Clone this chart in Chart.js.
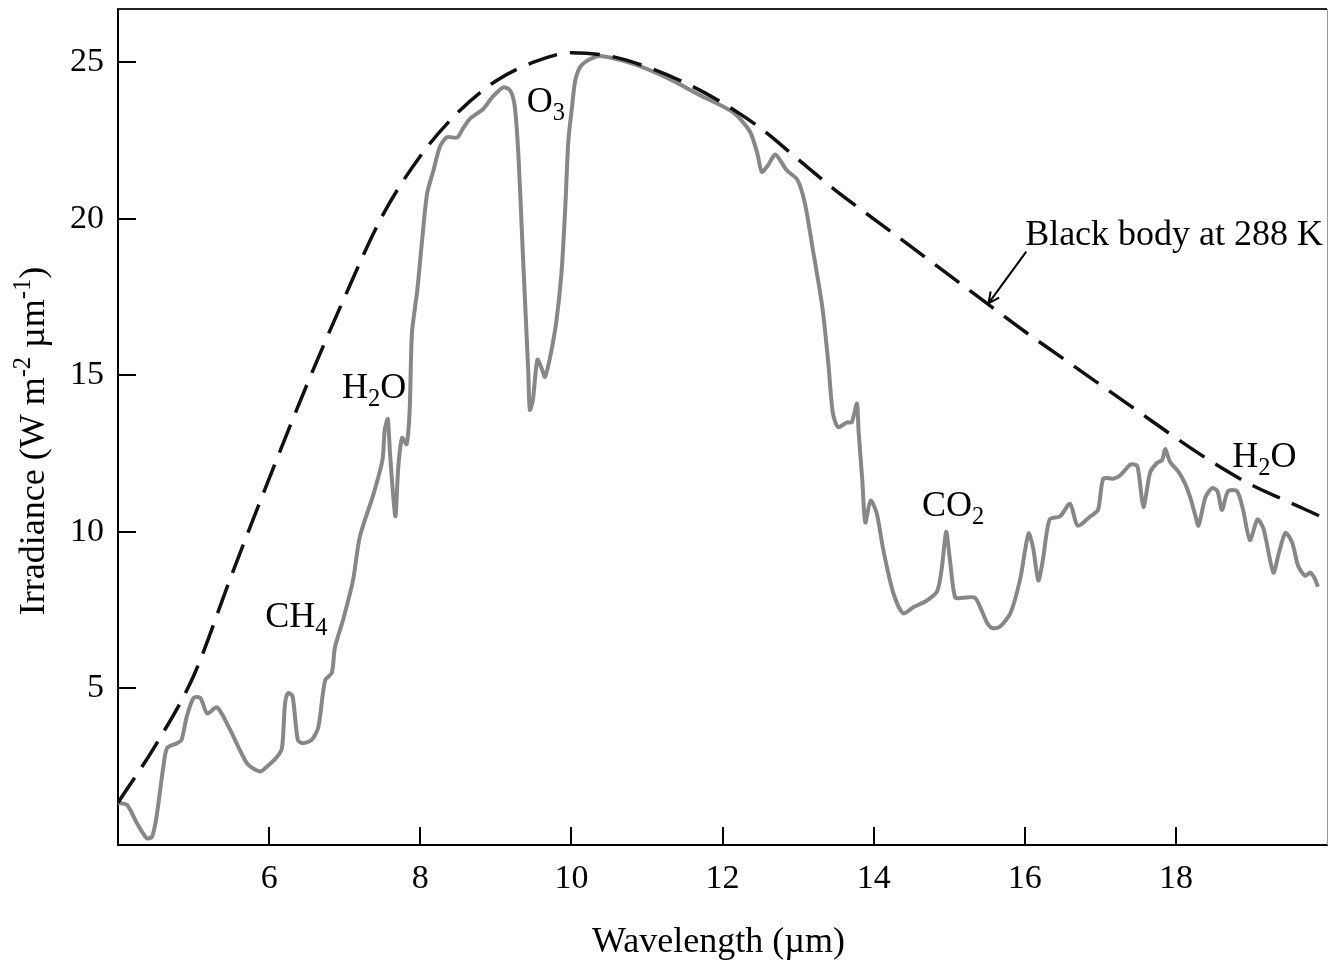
<!DOCTYPE html>
<html>
<head>
<meta charset="utf-8">
<style>
  html, body { margin: 0; padding: 0; background: #fff; }
  canvas { display: block; }
</style>
</head>
<body>
<canvas id="grafico" width="1328" height="962"></canvas>
<script src="https://cdn.jsdelivr.net/npm/chart.js@4.4.1/dist/chart.umd.min.js"></script>
<script>
// measured spectrum, wavelength (µm)
const spectrumX = [
  4.00, 4.12, 4.25, 4.38, 4.45, 4.51, 4.60, 4.65, 4.78, 4.84, 4.91, 5.00, 5.09, 5.18, 5.31, 5.48,
  5.71, 5.88, 5.97, 6.10, 6.17, 6.21, 6.25, 6.31, 6.38, 6.45, 6.56, 6.65, 6.74, 6.83, 6.87, 6.98,
  7.11, 7.20, 7.38, 7.50, 7.53, 7.57, 7.60, 7.67, 7.71, 7.76, 7.82, 7.86, 7.89, 7.96, 8.02, 8.09,
  8.17, 8.26, 8.35, 8.49, 8.57, 8.66, 8.83, 8.96, 9.10, 9.19, 9.25, 9.30, 9.35, 9.39, 9.43, 9.45,
  9.49, 9.55, 9.61, 9.65, 9.72, 9.80, 9.87, 9.92, 9.96, 10.01, 10.05, 10.12, 10.25, 10.38, 10.82, 11.27,
  11.70, 12.14, 12.36, 12.46, 12.52, 12.60, 12.70, 12.85, 12.99, 13.09, 13.19, 13.32, 13.40, 13.46, 13.53, 13.65,
  13.71, 13.78, 13.80, 13.85, 13.89, 13.96, 14.04, 14.13, 14.26, 14.39, 14.53, 14.70, 14.84, 14.90, 14.96, 15.01,
  15.08, 15.18, 15.34, 15.41, 15.50, 15.57, 15.67, 15.81, 15.94, 16.05, 16.11, 16.18, 16.24, 16.33, 16.47, 16.60,
  16.70, 16.87, 16.97, 17.04, 17.17, 17.26, 17.40, 17.49, 17.57, 17.66, 17.75, 17.82, 17.86, 17.92, 18.04, 18.12,
  18.19, 18.26, 18.30, 18.39, 18.48, 18.55, 18.61, 18.69, 18.81, 18.89, 18.98, 19.08, 19.16, 19.29, 19.36, 19.45,
  19.54, 19.62, 19.71, 19.78, 19.84, 19.88
];
// irradiance (W m-2 µm-1)
const spectrumY = [
  1.35, 1.28, 0.70, 0.22, 0.26, 0.90, 2.50, 3.10, 3.25, 3.35, 4.10, 4.70, 4.70, 4.20, 4.40, 3.70,
  2.60, 2.35, 2.50, 2.80, 3.10, 4.50, 4.85, 4.75, 3.35, 3.25, 3.35, 3.75, 5.25, 5.50, 6.30, 7.20,
  8.45, 9.84, 11.2, 12.3, 13.26, 13.6, 12.5, 10.5, 12.1, 13.0, 12.8, 13.9, 16.35, 17.7, 19.2, 20.8,
  21.5, 22.3, 22.6, 22.6, 22.9, 23.2, 23.5, 23.9, 24.2, 24.1, 23.6, 22.0, 19.3, 17.2, 15.1, 13.9,
  14.2, 15.5, 15.2, 14.95, 15.6, 16.7, 18.3, 20.4, 22.5, 23.6, 24.4, 24.86, 25.1, 25.2, 24.95, 24.5,
  23.95, 23.4, 22.8, 22.1, 21.5, 21.7, 22.05, 21.55, 21.25, 20.5, 19.1, 17.2, 15.4, 13.8, 13.35, 13.5,
  13.5, 14.1, 13.25, 11.65, 10.3, 11.0, 10.6, 9.4, 8.05, 7.4, 7.6, 7.8, 8.1, 8.8, 10.0, 9.1,
  7.9, 7.9, 7.9, 7.6, 7.1, 6.93, 6.97, 7.4, 8.5, 9.95, 9.5, 8.45, 9.1, 10.4, 10.5, 10.9,
  10.2, 10.5, 10.7, 11.7, 11.7, 11.8, 12.15, 12.1, 10.8, 11.9, 12.2, 12.3, 12.65, 12.25, 11.9, 11.55,
  11.1, 10.5, 10.2, 11.1, 11.4, 11.3, 10.7, 11.3, 11.3, 10.7, 9.74, 10.4, 10.1, 8.7, 9.3, 9.97,
  9.65, 8.9, 8.6, 8.7, 8.5, 8.25
];

// black body at 288 K
const blackBodyX = [4.0, 4.5, 5.0, 5.5, 6.0, 6.5, 7.0, 7.5, 8.0, 8.5, 9.0, 9.5, 10.0, 10.5, 11.0, 11.5,
  12.0, 12.5, 13.0, 13.5, 14.0, 14.5, 15.0, 15.5, 16.0, 16.5, 17.0, 17.5, 18.0, 18.5, 19.0, 19.5, 20.0];
const blackBodyY = [1.35, 3.2, 5.4, 8.6, 11.7, 14.7, 17.5, 20.1, 22.0, 23.4, 24.4, 25.0, 25.3, 25.2, 24.85, 24.35,
  23.7, 22.9, 21.9, 20.9, 20.0, 19.1, 18.2, 17.3, 16.4, 15.55, 14.7, 13.85, 13.0, 12.2, 11.5, 10.95, 10.4];

const ticksX = [6, 8, 10, 12, 14, 16, 18];
const ticksY = [5, 10, 15, 20, 25];

// labels on the plot ('_' = subscript), placed in data units (left edge, baseline)
const labels = [
  { text: 'CH_4', x: 5.95, y: 6.96 },
  { text: 'H_2O', x: 6.965, y: 14.28 },
  { text: 'O_3', x: 9.41, y: 23.42 },
  { text: 'CO_2', x: 14.64, y: 10.51 },
  { text: 'H_2O', x: 18.745, y: 12.08 },
  { text: 'Black body at 288 K', x: 16.005, y: 19.17 }
];
const arrow = { x1: 16.02, y1: 18.95, x2: 15.52, y2: 17.3 };

const serif = "'Liberation Serif', 'Times New Roman', serif";
const tickSize = 34;
const textSize = 36;

// split "H_2O" / "m^{-2}" into pieces: 0 normal, 1 sub, -1 sup
function pieces(str) {
  const out = [];
  let i = 0;
  while (i < str.length) {
    if (str[i] === '_') { out.push([str[i + 1], 1]); i += 2; }
    else if (str[i] === '^') { const j = str.indexOf('}', i); out.push([str.slice(i + 2, j), -1]); i = j + 1; }
    else {
      let j = i;
      while (j < str.length && str[j] !== '_' && str[j] !== '^') j++;
      out.push([str.slice(i, j), 0]); i = j;
    }
  }
  return out;
}

function richWidth(ctx, str, size) {
  let w = 0;
  pieces(str).forEach(([t, k]) => {
    ctx.font = (k ? size * 0.68 : size) + 'px ' + serif;
    w += ctx.measureText(t).width;
  });
  return w;
}

function drawRich(ctx, str, x, y, size, align) {
  if (align === 'center') x -= richWidth(ctx, str, size) / 2;
  ctx.textAlign = 'left';
  ctx.textBaseline = 'alphabetic';
  pieces(str).forEach(([t, k]) => {
    const s = k ? size * 0.68 : size;
    ctx.font = s + 'px ' + serif;
    const dy = k === 1 ? size * 0.22 : (k === -1 ? -size * 0.38 : 0);
    ctx.fillText(t, x, y + dy);
    x += ctx.measureText(t).width;
  });
}

const decor = {
  id: 'decor',
  afterDraw(chart) {
    const { ctx, chartArea: a, scales } = chart;
    const sx = scales.x, sy = scales.y;
    ctx.save();

    // frame: top and right edges
    ctx.strokeStyle = '#222';
    ctx.lineWidth = 2;
    ctx.beginPath();
    ctx.moveTo(a.left, a.top); ctx.lineTo(a.right, a.top);
    ctx.stroke();
    ctx.strokeStyle = '#999';
    ctx.lineWidth = 1;
    ctx.beginPath();
    ctx.moveTo(a.right + 0.5, a.top); ctx.lineTo(a.right + 0.5, a.bottom);
    ctx.stroke();

    // inward tick marks
    ctx.strokeStyle = '#000';
    ctx.lineWidth = 2;
    ctx.beginPath();
    ticksX.forEach(v => {
      const px = Math.round(sx.getPixelForValue(v));
      ctx.moveTo(px, a.bottom); ctx.lineTo(px, a.bottom - 18);
    });
    ticksY.forEach(v => {
      const py = Math.round(sy.getPixelForValue(v));
      ctx.moveTo(a.left, py); ctx.lineTo(a.left + 18, py);
    });
    ctx.stroke();

    // labels
    ctx.fillStyle = '#000';
    labels.forEach(l => {
      drawRich(ctx, l.text, sx.getPixelForValue(l.x), sy.getPixelForValue(l.y), textSize, 'left');
    });

    // arrow to the dashed curve
    const x1 = sx.getPixelForValue(arrow.x1), y1 = sy.getPixelForValue(arrow.y1);
    const x2 = sx.getPixelForValue(arrow.x2), y2 = sy.getPixelForValue(arrow.y2);
    const ang = Math.atan2(y2 - y1, x2 - x1);
    ctx.lineWidth = 2;
    ctx.beginPath();
    ctx.moveTo(x1, y1); ctx.lineTo(x2, y2);
    ctx.moveTo(x2 - 12 * Math.cos(ang - 0.45), y2 - 12 * Math.sin(ang - 0.45));
    ctx.lineTo(x2, y2);
    ctx.lineTo(x2 - 12 * Math.cos(ang + 0.45), y2 - 12 * Math.sin(ang + 0.45));
    ctx.stroke();

    // axis titles
    drawRich(ctx, 'Wavelength (µm)', (a.left + a.right) / 2 - 4, 952, textSize, 'center');
    ctx.translate(44, (a.top + a.bottom) / 2 + 14);
    ctx.rotate(-Math.PI / 2);
    drawRich(ctx, 'Irradiance (W m^{-2} µm^{-1})', 0, 0, textSize, 'center');
    ctx.restore();
  }
};

const ctx = document.getElementById('grafico').getContext('2d');
new Chart(ctx, {
  type: 'line',
  data: {
    datasets: [
      {
        label: 'Black body at 288 K',
        data: blackBodyX.map((x, i) => ({ x: x, y: blackBodyY[i] })),
        borderColor: '#111',
        borderWidth: 3.5,
        borderDash: [30, 13],
        pointRadius: 0,
        cubicInterpolationMode: 'monotone'
      },
      {
        label: 'Irradiance',
        data: spectrumX.map((x, i) => ({ x: x, y: spectrumY[i] })),
        borderColor: '#878787',
        borderWidth: 4,
        pointRadius: 0,
        tension: 0.25
      }
    ]
  },
  options: {
    responsive: false,
    animation: false,
    layout: { padding: { top: 9, right: 1, left: 0, bottom: 0 } },
    plugins: { legend: { display: false }, tooltip: { enabled: false } },
    scales: {
      x: {
        type: 'linear',
        min: 4,
        max: 20,
        afterBuildTicks: s => { s.ticks = ticksX.map(v => ({ value: v })); },
        afterFit: s => { s.height = 117; s.paddingLeft = 0; s.paddingRight = 0; },
        grid: { display: false },
        border: { display: true, color: '#000', width: 2 },
        ticks: { color: '#000', font: { family: serif, size: tickSize }, padding: 6, maxRotation: 0, autoSkip: false }
      },
      y: {
        min: 0,
        max: 26.7,
        afterBuildTicks: s => { s.ticks = ticksY.map(v => ({ value: v })); },
        afterFit: s => { s.width = 118; s.paddingTop = 0; s.paddingBottom = 0; },
        grid: { display: false },
        border: { display: true, color: '#000', width: 2 },
        ticks: { color: '#000', font: { family: serif, size: tickSize }, padding: 6 }
      }
    }
  },
  plugins: [decor]
});
</script>
</body>
</html>
